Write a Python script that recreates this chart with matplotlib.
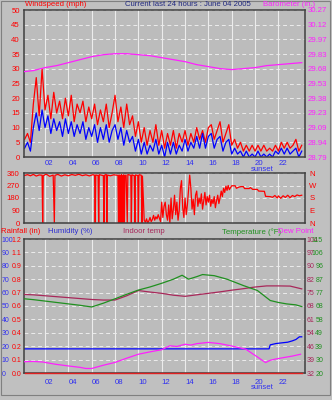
import numpy as np
import matplotlib
matplotlib.use('Agg')
from matplotlib import pyplot as plt
from matplotlib.patches import Rectangle

plt.rcParams['font.family'] = ['Liberation Sans', 'DejaVu Sans']
plt.rcParams['font.size'] = 5.6

# ---- data ----
hour_ticks = [2, 4, 6, 8, 10, 12, 14, 16, 18, 20, 22]
hour_labels = ['02', '04', '06', '08', '10', '12', '14', '16', '18', '20', '22']
sunset_hour = 20.6

# wind speed every 15 min
wind_hours = np.arange(0.25, 24.01, 0.25)
gust_mph = [6, 8, 5, 18, 27, 14, 30, 16, 21, 13, 22, 15, 19, 13, 20, 14,
            21, 12, 18, 15, 19, 12, 17, 13, 18, 11, 16, 12, 18, 10, 15, 21,
            12, 17, 10, 18, 11, 14, 7, 12, 5, 10, 4, 9, 5, 11, 4, 9,
            3, 8, 4, 9, 3, 8, 5, 9, 4, 8, 5, 10, 6, 9, 5, 10,
            11, 6, 9, 12, 5, 8, 11, 4, 6, 3, 5, 2, 4, 2, 4, 2,
            4, 2, 4, 2, 3, 2, 4, 2, 5, 3, 5, 3, 4, 6, 2, 4]
avg_mph = [3, 5, 2, 10, 15, 9, 16, 10, 14, 8, 13, 9, 12, 7, 13, 8,
           12, 7, 11, 8, 12, 6, 10, 7, 11, 5, 10, 6, 11, 5, 9, 11,
           6, 10, 4, 9, 5, 7, 2, 6, 1, 5, 1, 4, 2, 6, 1, 4,
           0, 5, 1, 5, 1, 4, 2, 6, 2, 5, 3, 7, 3, 8, 3, 7,
           8, 3, 6, 7, 2, 5, 6, 1, 3, 1, 2, 0, 2, 0, 1, 0,
           2, 0, 1, 0, 1, 0, 2, 1, 3, 1, 3, 1, 2, 3, 0, 2]

baro_hours = [0.25, 1, 2, 3, 4, 5, 6, 7, 8, 9, 10, 11, 12, 13, 14, 15,
              16, 17, 18, 19, 20, 21, 22, 23, 24]
baro_in = [29.65, 29.66, 29.69, 29.71, 29.74, 29.77, 29.80, 29.82, 29.83,
           29.83, 29.82, 29.81, 29.79, 29.77, 29.75, 29.72, 29.70, 29.68,
           29.67, 29.68, 29.69, 29.71, 29.72, 29.73, 29.74]
baro_labels = ['28.79', '28.94', '29.09', '29.23', '29.38', '29.53',
               '29.68', '29.83', '29.97', '30.12', '30.27']

# wind direction
dir_hours = [0.25, 0.5, 0.75, 1.0, 1.25, 1.5, 1.75, 1.8, 1.85, 2.1, 2.4, 2.7,
             2.8, 2.85, 3.1, 3.4, 3.7, 4.0, 4.3, 4.6, 4.9, 5.2, 5.5, 5.8,
             6.1, 6.25, 6.3, 6.35, 6.55, 6.6, 6.65, 7.0, 7.05, 7.1, 7.25,
             7.3, 7.35, 7.6, 7.9, 8.25, 8.3, 8.35, 8.4, 8.45, 8.5, 8.55, 8.6,
             8.65, 8.7, 8.75, 8.8, 8.85, 8.95, 9.05, 9.1, 9.35, 9.4, 9.45,
             9.65, 9.7, 9.75, 9.95, 10.0, 10.05, 10.25, 10.3, 10.35,
             10.5, 10.6, 10.7, 10.8, 10.9, 11.0, 11.1, 11.2, 11.3, 11.4,
             11.5, 11.6, 11.7, 11.8, 11.9, 12.0, 12.1, 12.2, 12.3, 12.4,
             12.5, 12.6, 12.7, 12.8, 12.9, 13.0, 13.1, 13.2, 13.3, 13.4,
             13.5, 13.6, 13.7, 13.8, 13.9, 14.0, 14.1, 14.2, 14.3, 14.4,
             14.5, 14.6, 14.7, 14.8, 14.9, 15.0, 15.1, 15.2, 15.3, 15.4,
             15.5, 15.6, 15.7, 15.8, 15.9, 16.0, 16.1, 16.2, 16.3, 16.4,
             16.5, 16.6, 16.7, 16.8, 16.9, 17.0, 17.1, 17.2, 17.3, 17.4,
             17.5, 17.6, 17.7, 17.8, 17.9, 18.0, 18.3, 18.4, 18.6, 18.8,
             19.0, 19.1, 19.5, 19.6, 19.8, 20.2, 20.3, 20.8, 20.9, 21.3,
             21.5, 21.7, 21.9, 22.0, 22.2, 22.4, 22.6, 22.8, 23.0, 23.2,
             23.4, 23.6, 23.8, 24.0]
dir_deg = [342, 348, 340, 350, 338, 346, 344, 0, 340, 352, 336, 345,
           0, 343, 350, 338, 347, 340, 349, 343, 351, 341, 347, 339,
           348, 344, 0, 346, 342, 0, 348, 341, 0, 344, 350,
           0, 345, 340, 347, 343, 0, 346, 0, 340, 0, 348, 0,
           342, 0, 347, 0, 341, 345, 0, 349, 343, 0, 347,
           340, 0, 346, 342, 0, 348, 344, 0, 338,
           20, 5, 30, 0, 15, 40, 10, 25, 55, 20,
           45, 30, 60, 35, 10, 150, 40, 120, 150, 60,
           20, 130, 0, 180, 30, 100, 200, 60, 150, 20,
           90, 250, 305, 110, 40, 180, 60, 130, 240, 345,
           250, 100, 170, 60, 200, 230, 120, 180, 140, 210,
           100, 160, 220, 130, 190, 150, 200, 120, 170, 140,
           190, 110, 160, 200, 140, 180, 230, 190, 250, 220,
           265, 235, 270, 240, 255, 268, 268, 250, 258, 262,
           262, 248, 248, 255, 242, 242, 230, 228, 192, 190,
           185, 198, 180, 195, 178, 196, 184, 200, 182, 198,
           190, 202, 196, 200]

# bottom panel
rain_hours = [0.25, 24.0]
rain_in = [0.0, 0.0]
hum_hours = [0.25, 21.2, 21.3, 21.8, 22.3, 22.8, 23.2, 23.5, 23.8, 24.0]
hum_pct = [18, 18, 21, 22, 22.5, 23, 24, 25, 27, 27]
indoor_hours = [0.25, 1, 2, 3, 4, 5, 6, 7, 8, 9, 10, 11, 12, 13, 14, 15,
                16, 17, 18, 19, 20, 21, 22, 23, 24]
indoor_f = [74.2, 74.0, 73.5, 73.0, 72.5, 72.0, 71.5, 71.2, 71.2, 73.5,
            76.3, 75.5, 74.8, 73.8, 73.2, 74.0, 74.8, 75.6, 76.5, 77.3,
            78.2, 78.8, 78.8, 78.7, 77.2]
temp_hours = [0.25, 1, 2, 3, 4, 5, 6, 7, 8, 9, 10, 11, 12, 13, 13.75, 14.3,
              15, 15.5, 16.5, 17.6, 19, 20.2, 21.3, 22, 22.7, 23.5, 24]
temp_f = [72.6, 72.0, 71.0, 70.0, 69.0, 68.0, 66.8, 69.5, 72.6, 75.8, 78.8,
          81.0, 83.6, 86.5, 89.3, 86.5, 88.3, 89.8, 89.0, 86.5, 82.0, 78.5,
          71.4, 70.0, 69.0, 68.3, 67.1]
dew_hours = [0.25, 1, 1.8, 2.9, 4, 5, 5.5, 6, 7, 8, 9, 10, 11, 12, 12.7,
             13.3, 14, 14.5, 15, 16, 17, 17.9, 19.2, 20, 20.9, 21.3, 21.7,
             22.5, 23.2, 23.9]
dew_f = [28.0, 28.2, 27.8, 26.2, 25.0, 24.0, 23.2, 23.2, 25.5, 27.5, 30.5,
         33.3, 35.0, 36.5, 39.3, 38.8, 40.4, 39.8, 40.8, 41.7, 40.8, 39.3,
         36.9, 32.5, 27.4, 29.0, 29.8, 31.0, 32.0, 33.3]
rain_labels = ['0.0', '0.1', '0.2', '0.4', '0.5', '0.6', '0.7', '0.8', '0.9', '1.1', '1.2']
indoor_labels = ['32', '39', '46', '54', '61', '68', '75', '82', '90', '97', '104']
temp_labels = ['20', '30', '39', '49', '58', '68', '77', '87', '96', '106', '115']

# ---- colours ----
BG = '#c0c0c0'
PLOT_BG = '#bcbcbc'
RED = '#ff0000'
BLUE = '#0000ff'
TICK_BLUE = '#3030f0'
MAG = '#ff20ff'
MAROON = '#a8285a'
GREEN = '#209020'
SIDE_FS = 5.0

W, H = 332, 400
XLIM = (0.2, 24.28)

fig = plt.figure(figsize=(W / 100, H / 100), dpi=100, facecolor=BG)


def box(left, top, right, bottom):
    return [left / W, 1 - bottom / H, (right - left) / W, (bottom - top) / H]


def style(ax, yt):
    ax.set_facecolor(PLOT_BG)
    ax.set_xlim(*XLIM)
    ax.set_xticks(hour_ticks)
    ax.set_yticks(yt)
    ax.grid(axis='x', color='#ececec', lw=0.8, ls='-')
    ax.grid(axis='y', color='#ececec', lw=0.7, ls=(0, (4, 3)))
    ax.set_axisbelow(True)
    for s in ax.spines.values():
        s.set_color('#404040')
        s.set_linewidth(1.1)
    ax.tick_params(length=0)


def hide_spines(ax):
    for s in ax.spines.values():
        s.set_visible(False)


# ---- panel 1: wind + barometer ----
ax1 = fig.add_axes(box(24, 10, 305, 157))
style(ax1, range(0, 51, 5))
ax1.set_ylim(0, 50)
ax1.plot(wind_hours, gust_mph, color=RED, lw=0.9)
ax1.plot(wind_hours, avg_mph, color=BLUE, lw=0.9)
ax1.set_xticklabels(hour_labels)
ax1.tick_params(axis='x', colors=TICK_BLUE, pad=2)
plt.setp(ax1.get_xticklabels(), ha='left')
ax1.tick_params(axis='y', colors=RED, pad=3)
ax1.text(sunset_hour, -0.082, 'sunset', color=TICK_BLUE, ha='center', va='center',
         transform=ax1.get_xaxis_transform())

ax1b = ax1.twinx()
hide_spines(ax1b)
ax1b.set_ylim(28.79, 30.27)
ax1b.set_yticks(np.linspace(28.79, 30.27, 11))
ax1b.set_yticklabels(baro_labels)
ax1b.tick_params(axis='y', colors=MAG, length=0, pad=2)
ax1b.plot(baro_hours, baro_in, color=MAG, lw=0.9)

fig.text(25 / W, 1 - 5 / H, 'Windspeed (mph)', color=RED, va='center')
fig.text(125 / W, 1 - 5 / H, 'Current last 24 hours : June 04 2005', color='#202880', va='center')
fig.text(263 / W, 1 - 4 / H, 'Barometer (in.)', color=MAG, va='center')

# ---- panel 2: wind direction ----
ax2 = fig.add_axes(box(24, 173, 305, 223))
style(ax2, [0, 90, 180, 270, 360])
ax2.set_ylim(0, 360)
ax2.set_xticklabels([])
ax2.tick_params(axis='y', colors=RED, pad=3)
ax2.plot(dir_hours, dir_deg, color=RED, lw=0.9)
ax2b = ax2.twinx()
hide_spines(ax2b)
ax2b.set_ylim(0, 360)
ax2b.set_yticks([0, 90, 180, 270, 360])
ax2b.set_yticklabels(['N', 'E', 'S', 'W', 'N'])
ax2b.tick_params(axis='y', colors=RED, length=0, pad=3)

# ---- panel 3: rain / humidity / temps ----
ax3 = fig.add_axes(box(24, 239, 305, 373))
style(ax3, range(0, 101, 10))
ax3.set_ylim(0, 100)
ax3.set_xticklabels(hour_labels)
ax3.tick_params(axis='x', colors=TICK_BLUE, pad=4)
plt.setp(ax3.get_xticklabels(), ha='left')
ax3.tick_params(axis='y', colors=TICK_BLUE, pad=16, labelsize=SIDE_FS)
plt.setp(ax3.get_yticklabels(), ha='left')
ax3.text(sunset_hour, -0.11, 'sunset', color=TICK_BLUE, ha='center', va='center',
         transform=ax3.get_xaxis_transform())

ax3r = ax3.twinx()
hide_spines(ax3r)
ax3r.yaxis.tick_left()
ax3r.set_ylim(0, 1.2)
ax3r.set_yticks(np.linspace(0, 1.2, 11))
ax3r.set_yticklabels(rain_labels)
ax3r.tick_params(axis='y', colors=RED, length=0, pad=2, labelsize=SIDE_FS)

ax3i = ax3.twinx()
hide_spines(ax3i)
ax3i.set_ylim(32, 104)
ax3i.set_yticks(np.linspace(32, 104, 11))
ax3i.set_yticklabels(indoor_labels)
ax3i.tick_params(axis='y', colors=MAROON, length=0, pad=1.2, labelsize=SIDE_FS)

ax3t = ax3.twinx()
hide_spines(ax3t)
ax3t.set_ylim(20, 115)
ax3t.set_yticks(np.linspace(20, 115, 11))
ax3t.set_yticklabels(temp_labels)
ax3t.tick_params(axis='y', colors=GREEN, length=0, pad=13, labelsize=SIDE_FS)
plt.setp(ax3t.get_yticklabels(), ha='right')

ax3i.plot(indoor_hours, indoor_f, color=MAROON, lw=0.9)
ax3t.plot(temp_hours, temp_f, color=GREEN, lw=0.9)
ax3t.plot(dew_hours, dew_f, color=MAG, lw=0.9)
ax3.plot(hum_hours, hum_pct, color=BLUE, lw=0.9)
ax3r.plot(rain_hours, rain_in, color='#e02020', lw=1.0, clip_on=False)

fig.text(1 / W, 1 - 232 / H, 'Rainfall (in)', color=RED, va='center')
fig.text(48 / W, 1 - 232 / H, 'Humidity (%)', color='#3030d0', va='center')
fig.text(123 / W, 1 - 232 / H, 'Indoor temp', color=MAROON, va='center')
fig.text(222 / W, 1 - 232 / H, 'Temperature (\u00b0F)', color=GREEN, va='center')
fig.text(278 / W, 1 - 232 / H, 'Dew Point', color=MAG, va='center')

# outer frame
fig.patches.append(Rectangle((1 / W, 5 / H), 329 / W, 394 / H, transform=fig.transFigure,
                             fill=False, ec='#808080', lw=0.8))

fig.savefig('out.png', dpi=100, facecolor=BG)
